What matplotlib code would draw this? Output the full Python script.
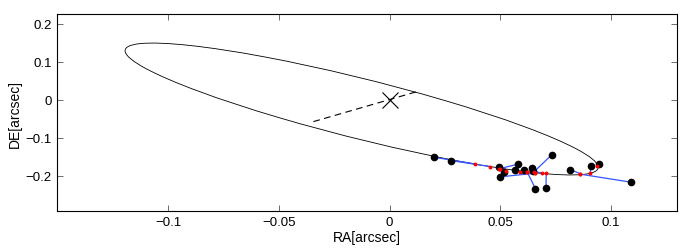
import matplotlib
matplotlib.use("Agg")
import matplotlib.pyplot as plt
from matplotlib.patches import Ellipse

plt.rcParams['font.family'] = ['Liberation Sans', 'DejaVu Sans']

# apparent orbit (RA, DE in arcsec)
orbit_center = (-0.0126, -0.0247)
orbit_major = 0.1992
orbit_minor = 0.0437
orbit_angle = -59.87

# line of nodes
node_ra = [-0.0344, 0.0124]
node_de = [-0.0579, 0.0211]

# observed positions
obs_ra = [0.0199, 0.0278, 0.0734, 0.0580, 0.0493, 0.0519, 0.0500, 0.0565, 0.0606,
          0.0644, 0.0648, 0.0659, 0.0707, 0.0816, 0.0910, 0.0948, 0.1091]
obs_de = [-0.1516, -0.1605, -0.1447, -0.1700, -0.1779, -0.1911, -0.2034, -0.1858, -0.1858,
          -0.1805, -0.1876, -0.2342, -0.2316, -0.1842, -0.1753, -0.1700, -0.2174]

# predicted positions on the orbit
pred_ra = [0.0384, 0.0455, 0.0651, 0.0493, 0.0526, 0.0500, 0.0659, 0.0591, 0.0621,
           0.0659, 0.0689, 0.0621, 0.0708, 0.0862, 0.0907, 0.0938, 0.0862]
pred_de = [-0.1692, -0.1763, -0.1911, -0.1824, -0.1868, -0.1824, -0.1937, -0.1895, -0.1895,
           -0.1937, -0.1937, -0.1895, -0.1937, -0.1950, -0.1937, -0.1737, -0.1963]

fig = plt.figure(figsize=(6.82, 2.53), dpi=100)
ax = fig.add_axes([0.0831, 0.161, 0.9099, 0.7797])

ax.add_patch(Ellipse(orbit_center, 2 * orbit_major, 2 * orbit_minor, angle=orbit_angle,
                     fill=False, edgecolor='black', lw=0.6))
ax.plot(node_ra, node_de, color='black', lw=0.8, ls=(0, (6, 4)))
ax.plot([0], [0], marker='x', color='black', ms=11, mew=0.8, ls='none')
for i in range(len(obs_ra)):
    ax.plot([obs_ra[i], pred_ra[i]], [obs_de[i], pred_de[i]], color='#3355ff', lw=0.9)
ax.plot(obs_ra, obs_de, 'o', color='black', ms=4.5, ls='none')
ax.plot(pred_ra, pred_de, 'o', color='red', ms=1.8, ls='none')

ax.set_xlim(-0.1504, 0.130)
ax.set_ylim(-0.294, 0.2255)
ax.set_xticks([-0.1, -0.05, 0, 0.05, 0.1])
ax.set_xticklabels(['\u22120.1', '\u22120.05', '0', '0.05', '0.1'])
ax.set_yticks([-0.2, -0.1, 0, 0.1, 0.2])
ax.set_yticklabels(['\u22120.2', '\u22120.1', '0', '0.1', '0.2'])
ax.tick_params(direction='in', length=4, width=0.6, top=True, right=True, labelsize=9.5, color='#555555')
for s in ax.spines.values():
    s.set_linewidth(0.8)
ax.set_xlabel('RA[arcsec]', fontsize=10, labelpad=1)
ax.set_ylabel('DE[arcsec]', fontsize=10, labelpad=3)

fig.savefig('out.png', dpi=100)
